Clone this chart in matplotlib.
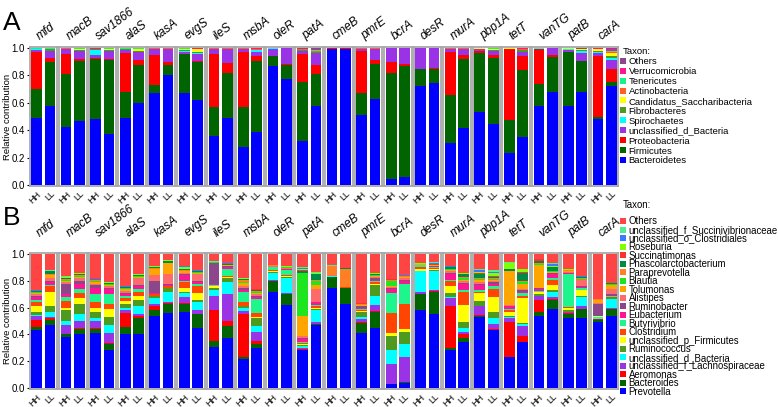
import numpy as np
import matplotlib
matplotlib.use('Agg')
import matplotlib.pyplot as plt
from matplotlib.patches import Patch

plt.rcParams['font.family'] = ['Liberation Sans', 'DejaVu Sans']

genes = ['mfd', 'macB', 'sav1866', 'alaS', 'kasA', 'evgS', 'ileS', 'msbA', 'oleR', 'patA',
         'cmeB', 'pmrE', 'bcrA', 'desR', 'murA', 'pbp1A', 'tetT', 'vanTG', 'patB', 'carA']
groups = ['HH', 'LL']
yticks = [0.0, 0.2, 0.4, 0.6, 0.8, 1.0]
ytick_labels = ['0.0', '0.2', '0.4', '0.6', '0.8', '1.0']

# ---------------- Panel A (phylum level); 40 values = gene order, HH then LL ----------------
A_Bacteroidetes = [.49, .58, .42, .47, .48, .37, .49, .60, .67, .80, .67, .62, .36, .49, .28, .39, .87, .775, .32, .58,
                   .995, .99, .51, .63, .04, .055, .725, .745, .305, .415, .535, .445, .233, .35, .58, .68, .58, .68, .483, .72]
A_Firmicutes = [.21, .32, .39, .435, .44, .545, .19, .28, .06, .08, .285, .28, .21, .325, .29, .515, .07, .105, .435, .23,
                .002, .002, .165, .255, .78, .815, .12, .105, .355, .505, .43, .48, .242, .49, .16, .255, .393, .225, .017, .03]
A_Proteobacteria = [.27, .03, .15, .015, .01, .005, .285, .03, .22, .02, .002, .005, .385, .075, .405, .035, .002, .003, .205, .065,
                    .001, .006, .305, .03, .075, .015, .002, .002, .315, .033, .015, .021, .515, .10, .25, .015, .002, .003, .44, .095]
A_unclassified_d_Bacteria = [.015, .05, .03, .06, .02, .06, .02, .06, .04, .09, .018, .055, .035, .10, .015, .035, .055, .115, .02, .088,
                             .001, .001, .012, .075, .103, .113, .152, .147, .015, .037, .01, .034, .003, .03, .007, .048, .012, .057, .025, .07]
A_Spirochaetes = [.005, .002, .002, .002, .035, .002, .002, .002, .002, .002, .003, .003, .002, .002, .002, .008, .001, .001, .002, .002,
                  .001, .001, .002, .002, .001, .001, .001, .001, .002, .002, .001, .002, .002, .005, .001, .001, .008, .012, .01, .01]
A_Fibrobacteres = [.003, .008, .003, .004, .005, .004, .005, .01, .003, .002, .005, .012, .003, .003, .003, .003, .001, .001, .003, .005,
                   0, 0, .002, .003, .001, .001, 0, 0, .003, .003, .002, .003, .002, .008, .001, .001, .002, .01, .005, .015]
A_Candidatus_Saccharibacteria = [.002, .003, .002, .005, .002, .004, .003, .012, .002, .002, .012, .015, .002, .002, .002, .002, .0005, 0, .002, .002,
                                 0, 0, .001, .002, 0, 0, 0, 0, .002, .002, .005, .01, .001, .005, .0005, 0, .001, .003, .012, .025]
A_Actinobacteria = [.002, .004, .001, .006, .003, .007, .002, .003, .001, .002, .002, .005, .001, .001, .001, .003, .0005, 0, .003, .008,
                    0, 0, .001, .001, 0, 0, 0, 0, .001, .001, .001, .002, .001, .003, .0005, 0, .001, .003, .002, .01]
A_Tenericutes = [.001, .001, .001, .001, .002, .001, .001, .001, .001, .001, .001, .002, .001, .001, .001, .002, 0, 0, .002, .003,
                 0, 0, .001, .001, 0, 0, 0, 0, .001, .001, .0005, .001, .001, .006, 0, 0, .0005, .002, .001, .005]
A_Verrucomicrobia = [.001, .001, .0005, .001, .002, .001, .001, .001, .0005, .0005, .001, .002, .0005, .0005, .0005, .005, 0, 0, .003, .005,
                     0, 0, .0005, .0005, 0, 0, 0, 0, .0005, .0005, .0003, .001, 0, .002, 0, 0, .0003, .002, .004, .015]
A_Others = [.001, .001, .0005, .001, .001, .001, .001, .001, .0005, .0005, .001, .001, .0005, .0005, .0005, .002, 0, 0, .005, .012,
            0, 0, .0005, .0005, 0, 0, 0, 0, .0005, .0005, .0002, .001, 0, .001, 0, 0, .0002, .003, .001, .005]

A_taxa = ['Bacteroidetes', 'Firmicutes', 'Proteobacteria', 'unclassified_d_Bacteria', 'Spirochaetes',
          'Fibrobacteres', 'Candidatus_Saccharibacteria', 'Actinobacteria', 'Tenericutes', 'Verrucomicrobia', 'Others']
A_values = [A_Bacteroidetes, A_Firmicutes, A_Proteobacteria, A_unclassified_d_Bacteria, A_Spirochaetes,
            A_Fibrobacteres, A_Candidatus_Saccharibacteria, A_Actinobacteria, A_Tenericutes, A_Verrucomicrobia, A_Others]
A_colors = ['#0000FF', '#006400', '#FF0000', '#9A32E6', '#00FFFF', '#4E9A1E', '#FFFF00', '#FF5F1F', '#1AF08C', '#FF1493', '#8B4789']

# ---------------- Panel B (genus level) ----------------
B_Prevotella = [.43, .47, .38, .40, .41, .28, .40, .40, .54, .56, .57, .45, .305, .375, .215, .30, .72, .62, .28, .47,
                .75, .63, .41, .445, .03, .035, .58, .55, .28, .34, .53, .43, .23, .34, .54, .59, .52, .52, .495, .54]
B_Bacteroides = [.025, .04, .02, .04, .03, .05, .055, .125, .04, .07, .06, .10, .045, .085, .015, .03, .08, .08, .005, .005,
                 .08, .115, .075, .125, .002, .01, .12, .17, .02, .03, .01, .005, .002, .002, .03, .07, .035, .07, .015, .05]
B_Aeromonas = [.055, .01, .005, .005, .005, .005, .105, .01, .035, .005, .005, .005, .23, .04, .32, .02, .002, .002, .005, .005,
               .001, .001, .005, .005, .001, .001, .002, .002, .31, .03, .005, .005, .258, .048, .085, .005, .005, .002, .002, .002]
B_unclassified_f_Lachnospiraceae = [.025, .01, .065, .055, .055, .075, .025, .015, .015, .005, .045, .025, .11, .20, .025, .07, .008, .008, .01, .015,
                                    .001, .001, .025, .045, .147, .184, .013, .008, .065, .015, .065, .04, .035, .075, .03, .015, .005, .023, .003, .008]
B_unclassified_d_Bacteria = [.01, .04, .03, .05, .02, .06, .015, .06, .04, .08, .03, .06, .04, .09, .025, .04, .05, .11, .015, .085,
                             .001, .001, .015, .07, .10, .10, .155, .145, .005, .03, .005, .04, .005, .015, .005, .04, .005, .065, .015, .065]
B_Ruminococcus = [.025, .04, .08, .08, .045, .06, .03, .045, .015, .025, .01, .015, .02, .03, .01, .06, .005, .005, .005, .01,
                  .001, .001, .04, .08, .105, .09, .005, .005, .03, .045, .035, .05, .005, .005, .01, .015, .01, .005, .003, .005]
B_unclassified_p_Firmicutes = [.04, .11, .02, .04, .035, .06, .02, .035, .005, .005, .03, .055, .01, .005, .005, .01, .01, .01, .005, .01,
                               .001, .001, .005, .01, .025, .02, .015, .01, .055, .13, .06, .11, .035, .185, .015, .035, .02, .045, .002, .005]
B_Clostridium = [.03, .04, .05, .04, .04, .04, .02, .03, .008, .01, .04, .05, .005, .01, .03, .03, .005, .005, .01, .01,
                 .001, .001, .005, .01, .15, .19, .01, .005, .035, .10, .01, .06, .01, .02, .005, .04, .005, .005, .002, .005]
B_Butyrivibrio = [.02, .01, .03, .03, .06, .07, .015, .02, .004, .005, .01, .02, .005, .055, .07, .105, .02, .04, .01, .01,
                  .001, .001, .01, .01, .15, .15, .015, .01, .005, .01, .01, .02, .01, .02, .005, .01, .245, .015, .002, .005]
B_Eubacterium = [.02, .02, .02, .04, .05, .04, .015, .02, .008, .005, .045, .01, .005, .01, .02, .015, .005, .005, .02, .02,
                 .001, .001, .01, .01, .03, .02, .005, .005, .045, .05, .04, .02, .02, .01, .015, .03, .005, .005, .002, .005]
B_Ruminobacter = [.01, .01, .08, .02, .02, .01, .01, .01, .09, .01, .005, .01, .16, .01, .01, .005, .002, .005, .005, .005,
                  .001, .001, .01, .01, .01, .01, .001, .002, .01, .005, .01, .01, .005, .01, .005, .005, .005, .005, .084, .01]
B_Alistipes = [.01, .02, .01, .02, .01, .01, .015, .05, .04, .07, .01, .05, .001, .003, .02, .015, .003, .005, .02, .095,
               .001, .001, .005, .01, .005, .01, .001, .002, .01, .015, .01, .01, .005, .01, .005, .005, .005, .045, .01, .04]
B_Tolumonas = [.01, .02, .01, .01, .01, .01, .015, .01, .05, .08, .01, .01, .001, .003, .02, .01, .002, .003, .145, .03,
               .001, .001, .005, .005, .005, .005, .001, .002, .01, .01, .02, .01, .25, .04, .17, .005, .005, .005, .02, .03]
B_Blautia = [.003, .005, .01, .005, .01, .005, .003, .003, .002, .003, .005, .003, .001, .003, .005, .005, .001, .002, .32, .03,
             .001, .001, .003, .005, .04, .005, .001, .002, .005, .01, .005, .005, .002, .01, .005, .005, .003, .005, .002, .003]
B_Paraprevotella = [.005, .005, .005, .005, .005, .005, .005, .003, .005, .004, .005, .003, .001, .003, .02, .01, .002, .003, .005, .005,
                    .068, .135, .003, .005, .005, .003, .001, .002, .005, .005, .005, .005, .003, .01, .005, .005, .005, .005, .005, .005]
B_Phascolarctobacterium = [.004, .02, .005, .01, .005, .005, .004, .009, .008, .013, .005, .004, .001, .003, .005, .01, .002, .003, .01, .045,
                           .001, .001, .004, .005, .005, .003, .001, .002, .01, .025, .03, .01, .01, .06, .02, .025, .003, .005, .001, .003]
B_Succinatimonas = [.003, .002, .002, .002, .002, .001, .002, .001, .001, .001, .002, .001, .001, .002, .002, .002, .001, .001, .01, .003,
                    .001, .001, .001, .002, .002, .002, .001, .001, .003, .003, .005, .005, .005, .005, .01, .005, .002, .002, .001, .002]
B_Roseburia = [.002, .002, .008, .003, .004, .002, .003, .002, .002, .001, .02, .005, .003, .002, .001, .001, .001, .001, .01, .007,
               .001, .001, .002, .003, .002, .001, .003, .003, .004, .004, .01, .02, .045, .02, .005, .005, .002, .005, .001, .001]
B_unclassified_o_Clostridiales = [.001, .002, .002, .005, .002, .001, .001, .001, .001, .001, .001, .002, 0, .005, .001, .001, .0005, .001, .005, .002,
                                  .001, .001, .001, .002, .001, .001, .001, .01, .002, .002, .015, .01, .002, .002, 0, .015, .002, .002, 0, .001]
B_unclassified_f_Succinivibrionaceae = [.002, .002, .002, .002, .002, .001, .002, .001, .001, .001, .002, .002, .001, .001, .001, .001, .0005, .001, .01, .003,
                                        .001, .001, .001, .003, 0, 0, .001, .002, .001, .001, .01, .015, .003, .003, 0, .005, .003, .001, 0, 0]
B_Others = [.27, .122, .166, .138, .18, .21, .24, .15, .09, .046, .09, .12, .055, .065, .18, .26, .08, .09, .095, .135,
            .085, .103, .365, .14, .185, .16, .068, .062, .09, .14, .11, .12, .06, .11, .035, .07, .11, .165, .335, .215]

B_taxa = ['Prevotella', 'Bacteroides', 'Aeromonas', 'unclassified_f_Lachnospiraceae', 'unclassified_d_Bacteria',
          'Ruminococcus', 'unclassified_p_Firmicutes', 'Clostridium', 'Butyrivibrio', 'Eubacterium', 'Ruminobacter',
          'Alistipes', 'Tolumonas', 'Blautia', 'Paraprevotella', 'Phascolarctobacterium', 'Succinatimonas',
          'Roseburia', 'unclassified_o_Clostridiales', 'unclassified_f_Succinivibrionaceae', 'Others']
B_values = [B_Prevotella, B_Bacteroides, B_Aeromonas, B_unclassified_f_Lachnospiraceae, B_unclassified_d_Bacteria,
            B_Ruminococcus, B_unclassified_p_Firmicutes, B_Clostridium, B_Butyrivibrio, B_Eubacterium, B_Ruminobacter,
            B_Alistipes, B_Tolumonas, B_Blautia, B_Paraprevotella, B_Phascolarctobacterium, B_Succinatimonas,
            B_Roseburia, B_unclassified_o_Clostridiales, B_unclassified_f_Succinivibrionaceae, B_Others]
B_colors = ['#0000FF', '#006400', '#FF0000', '#9A32E6', '#00FFFF', '#4E9A1E', '#FFFF00', '#FF4500', '#1EF58C',
            '#FF1493', '#8B4789', '#FF6A6A', '#FFA500', '#1EE61E', '#FF8024', '#008B45', '#FF3030', '#80FF00',
            '#3A7AFF', '#4EEE94', '#FF4444']

W, H = 778, 407
fig = plt.figure(figsize=(W / 100, H / 100), dpi=100)


def draw_panel(values, taxa, colors, top_px, bot_px, title_pad_px, letter, letter_base_px,
               title_y_px, leg_top_px, leg_fs, leg_spacing):
    for i, g in enumerate(genes):
        left = 29.5 + i * 29.55
        ax = fig.add_axes([left / W, (H - bot_px) / H, 27.5 / W, (bot_px - top_px) / H])
        bottom = np.zeros(2)
        for vals, col in zip(values, colors):
            h = np.array(vals[2 * i:2 * i + 2], dtype=float)
            ax.bar([0, 1], h, bottom=bottom, width=0.8, color=col, linewidth=0)
            bottom += h
        ax.set_xlim(-0.53, 1.53)
        ax.set_ylim(-0.008, 1.008)
        for s in ax.spines.values():
            s.set_color('#A8A8A8')
            s.set_linewidth(1.3)
        ax.set_xticks([0, 1])
        ax.set_xticklabels(groups, rotation=45, ha='right', va='top', rotation_mode='anchor', fontsize=6.5)
        ax.tick_params(axis='x', length=0, pad=2.5)
        if i == 0:
            ax.set_yticks(yticks)
            ax.set_yticklabels(ytick_labels, fontsize=7)
            ax.tick_params(axis='y', length=2.5, pad=1, width=0.8)
            ax.set_ylabel('Relative contribution', fontsize=6.8, va='center')
            ax.yaxis.set_label_coords(-0.79, 0.5)
        else:
            ax.set_yticks([])
        pad = title_pad_px / (bot_px - top_px)
        ax.text(0.44, 1.0 + pad, g, transform=ax.transAxes, rotation=37, rotation_mode='anchor',
                ha='left', va='bottom', fontsize=8.6, style='italic')
    fig.text(3 / W, 1 - letter_base_px / H, letter, fontsize=19, va='baseline', ha='left')
    fig.text(623 / W, 1 - title_y_px / H, 'Taxon:', fontsize=leg_fs, va='center', ha='left')
    handles = [Patch(facecolor=c, edgecolor='none') for c in colors][::-1]
    fig.legend(handles, taxa[::-1], loc='upper left', bbox_to_anchor=(620 / W, 1 - leg_top_px / H),
               frameon=False, fontsize=leg_fs,
               handlelength=0.6, handleheight=0.6, handletextpad=0.3, labelspacing=leg_spacing,
               borderpad=0, borderaxespad=0)


draw_panel(A_values, A_taxa, A_colors, 47, 186, 5, 'A', 30, 52, 57, 6.8, 0.1)
draw_panel(B_values, B_taxa, B_colors, 253, 389, 14, 'B', 225, 205, 216.5, 6.9, -0.155)

fig.savefig('out.png', dpi=100)
